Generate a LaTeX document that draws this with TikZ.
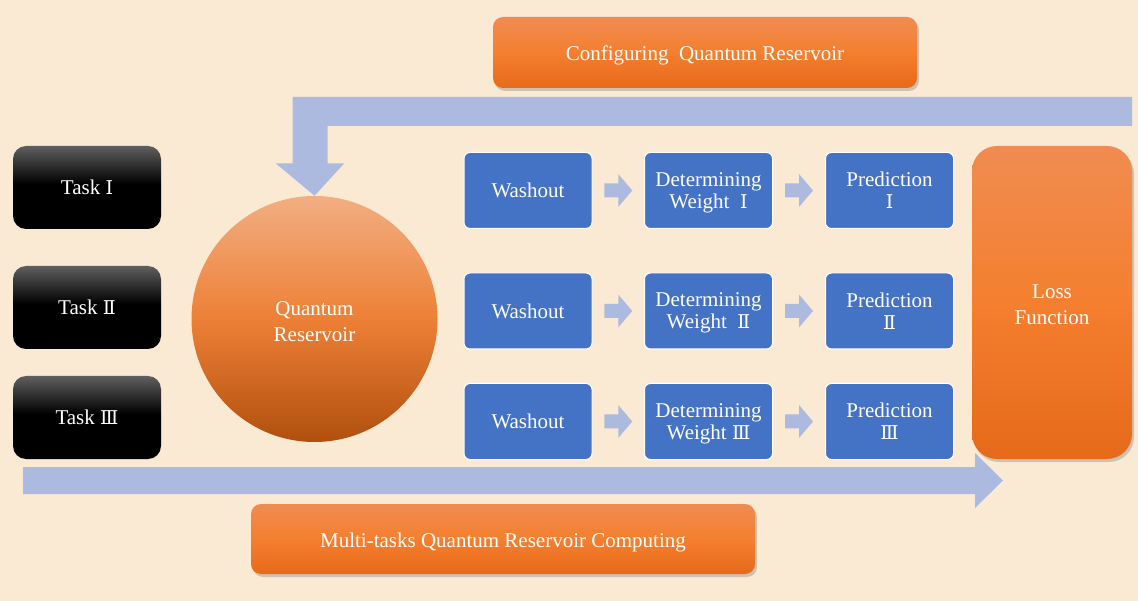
\documentclass[tikz,border=0pt]{standalone}
\usepackage{fontspec}
\setmainfont{Liberation Serif}
\newfontfamily\numfont{DejaVu Serif}
\newcommand\rn[1]{{\numfont\fontsize{19pt}{22pt}\selectfont #1}}
\newcommand\lowerby[1]{\rule{0pt}{#1}}
\usetikzlibrary{shadows,calc}
\definecolor{bgcream}{RGB}{251,234,211}
\definecolor{barblue}{RGB}{173,186,223}
\definecolor{boxblue}{RGB}{68,114,196}
\definecolor{otop}{RGB}{240,140,82}
\definecolor{omid}{RGB}{244,127,46}
\definecolor{obot}{RGB}{230,106,26}
\definecolor{ctop}{RGB}{242,174,130}
\definecolor{cmid}{RGB}{237,128,54}
\definecolor{cbot}{RGB}{176,80,14}
\definecolor{tgray}{RGB}{95,95,95}
\pgfdeclareverticalshading{orangeshade}{100bp}{color(0bp)=(obot); color(25bp)=(obot); color(50bp)=(omid); color(75bp)=(otop); color(100bp)=(otop)}
\pgfdeclareverticalshading{circshade}{100bp}{color(0bp)=(cbot); color(25bp)=(cbot); color(50bp)=(cmid); color(75bp)=(ctop); color(100bp)=(ctop)}
\pgfdeclareverticalshading{taskshade}{100bp}{color(0bp)=(black); color(25bp)=(black); color(52bp)=(black); color(75bp)=(tgray); color(100bp)=(tgray)}
\pgfdeclarelayer{bglayer}
\pgfdeclarelayer{arrowlayer}
\pgfsetlayers{bglayer,arrowlayer,main}
\newcommand\smallblockarrow[1]{\fill[barblue, shift={(#1)}] (-14,-7) -- (0,-7) -- (0,-16.5) -- (14,0) -- (0,16.5) -- (0,7) -- (-14,7) -- cycle;}
\tikzset{
  txt/.style={text=white, align=center, font=\fontsize{21pt}{22pt}\selectfont},
  taskbox/.style={txt, rounded corners=13pt, minimum width=148pt, minimum height=83pt, shade, shading=taskshade},
  bluebox/.style={txt, rounded corners=6pt, fill=boxblue, draw=white, line width=1pt, minimum width=128pt, minimum height=76pt},
  orangebox/.style={txt, shade, shading=orangeshade, drop shadow={shadow xshift=2pt, shadow yshift=-3pt, opacity=0.3, fill=black!60}},
  wide/.style={font=\fontsize{21pt}{26pt}\selectfont},
}
\begin{document}
\begin{tikzpicture}[x=1pt,y=-1pt]
\useasboundingbox (0,0) rectangle (1138,601);
\begin{pgfonlayer}{bglayer}
\fill[bgcream] (0,0) rectangle (1138,601);
\end{pgfonlayer}

% top box
\node[orangebox, rounded corners=10pt, minimum width=424pt, minimum height=71pt] (cfg) at (705,52.5) {\lowerby{20.5pt}Configuring~ Quantum Reservoir};
% tasks
\node[taskbox] (t1) at (87,187.5) {Task \rn{Ⅰ}};
\node[taskbox] (t2) at (87,307.5) {Task \rn{Ⅱ}};
\node[taskbox] (t3) at (87,417.5) {Task \rn{Ⅲ}};
% reservoir
\node[txt, wide, circle, minimum size=246pt, inner sep=0pt, shade, shading=circshade] (qr) at (314.5,319) {\lowerby{18.5pt}Quantum\\Reservoir};
% rows
\node[bluebox] (w1) at (528,190.5) {Washout};
\node[bluebox] (d1) at (708.5,190.5) {\lowerby{18.5pt}Determining\\Weight\ \ \rn{Ⅰ}};
\node[bluebox] (p1) at (889.5,190.5) {Prediction\\\rn{Ⅰ}};
\node[bluebox] (w2) at (528,311) {Washout};
\node[bluebox] (d2) at (708.5,311) {\lowerby{18.5pt}Determining\\Weight\ \ \rn{Ⅱ}};
\node[bluebox] (p2) at (889.5,311) {Prediction\\\rn{Ⅱ}};
\node[bluebox] (w3) at (528,421.5) {Washout};
\node[bluebox] (d3) at (708.5,421.5) {\lowerby{18.5pt}Determining\\Weight \rn{Ⅲ}};
\node[bluebox] (p3) at (889.5,421.5) {Prediction\\\rn{Ⅲ}};
% loss
\node[orangebox, wide, rounded corners=25pt, minimum width=160pt, minimum height=313pt] (loss) at (1052,302.5) {\lowerby{18.5pt}Loss\\Function};
% bottom box
\node[orangebox, rounded corners=10pt, minimum width=504pt, minimum height=70pt] (mtq) at (503,539) {\lowerby{22.5pt}Multi-tasks Quantum Reservoir Computing};

\coordinate (cfgend) at (1132,111.5);
\coordinate (mstart) at (23,480.5);
\coordinate (mend) at (1003,480.5);

\begin{pgfonlayer}{arrowlayer}
% configuring arrow into reservoir
\fill[barblue] (cfgend |- 0,97) -- (292.7,97) -- (292.7,163.3) -- (275.7,163.3) -- (qr.north) -- (344.3,163.3) -- (327.7,163.3) -- (327.7,126) -- (cfgend |- 0,126) -- cycle;
% long bottom arrow
\fill[barblue] (mstart |- 0,467) -- (975,467) -- (975,453) -- (mend) -- (975,508) -- (975,494) -- (mstart |- 0,494) -- cycle;
% small arrows
\foreach \r in {1,2,3}{
  \coordinate (a\r) at ($(w\r.east)!0.5!(d\r.west)$);
  \coordinate (b\r) at ($(d\r.east)!0.5!(p\r.west)$);
  \smallblockarrow{a\r}
  \smallblockarrow{b\r}
}
\end{pgfonlayer}
\end{tikzpicture}
\end{document}
